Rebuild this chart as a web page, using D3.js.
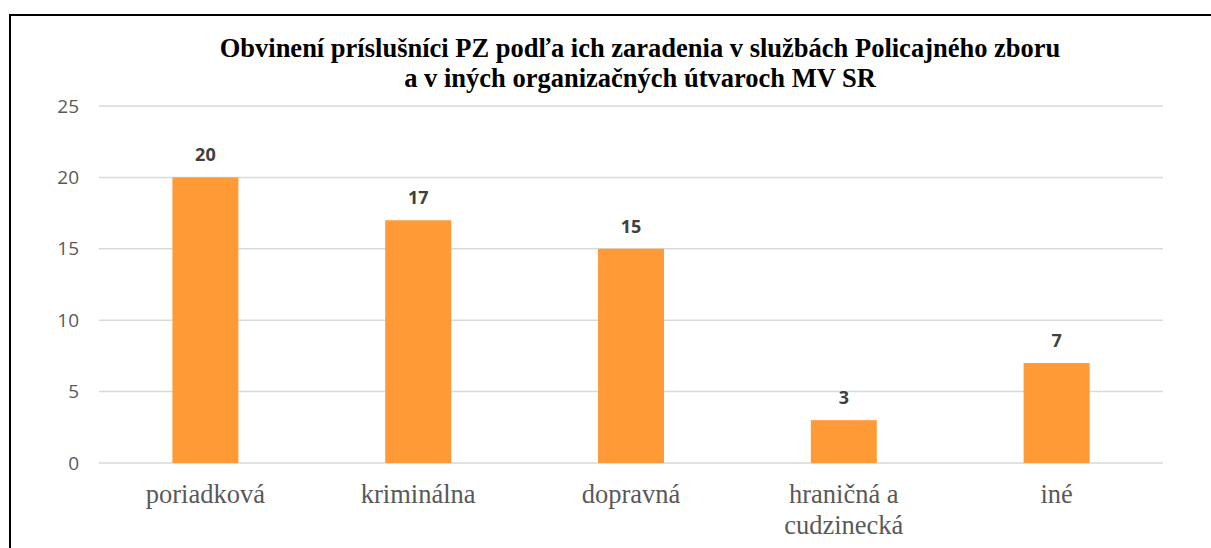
<!DOCTYPE html>
<html>
<head>
<meta charset="utf-8">
<script src="https://cdn.jsdelivr.net/npm/d3@7"></script>
<style>
  body { margin: 0; background: #fff; }
</style>
</head>
<body>
<div id="chart"></div>
<script>
var categories = ["poriadková", "kriminálna", "dopravná", "hraničná a cudzinecká", "iné"];
var values = [20, 17, 15, 3, 7];
var yTicks = [0, 5, 10, 15, 20, 25];
var titleLines = ["Obvinení príslušníci PZ podľa ich zaradenia v službách Policajného zboru", "a v iných organizačných útvaroch MV SR"];

var width = 1211, height = 548;
var margin = { top: 106, left: 99, right: 48, bottom: 85 };

var svg = d3.select("#chart").append("svg")
  .attr("width", width)
  .attr("height", height);

// frame around the chart
svg.append("path")
  .attr("d", "M10,560 L10,15 L1220,15")
  .attr("fill", "none")
  .attr("stroke", "#000")
  .attr("stroke-width", 2);

var x = d3.scaleBand()
  .domain(categories)
  .range([margin.left, width - margin.right])
  .paddingInner(0.69)
  .paddingOuter(0.345);

var y = d3.scaleLinear()
  .domain([0, 25])
  .range([height - margin.bottom, margin.top]);

// gridlines
svg.append("g")
  .selectAll("line")
  .data(yTicks)
  .enter().append("line")
  .attr("x1", margin.left)
  .attr("x2", width - margin.right)
  .attr("y1", function(d) { return y(d); })
  .attr("y2", function(d) { return y(d); })
  .attr("stroke", "#d9d9d9")
  .attr("stroke-width", 1.5);

// y axis labels
svg.append("g")
  .selectAll("text")
  .data(yTicks)
  .enter().append("text")
  .attr("x", 79)
  .attr("y", function(d) { return y(d); })
  .attr("dy", "0.35em")
  .attr("text-anchor", "end")
  .style("font-family", "'Open Sans', 'Liberation Sans', sans-serif")
  .style("font-size", "19px")
  .style("fill", "#595959")
  .text(function(d) { return d; });

// bars
svg.append("g")
  .selectAll("rect")
  .data(values)
  .enter().append("rect")
  .attr("x", function(d, i) { return x(categories[i]); })
  .attr("y", function(d) { return y(d); })
  .attr("width", x.bandwidth())
  .attr("height", function(d) { return y(0) - y(d); })
  .attr("fill", "#ff9a36");

// value labels
svg.append("g")
  .selectAll("text")
  .data(values)
  .enter().append("text")
  .attr("x", function(d, i) { return x(categories[i]) + x.bandwidth() / 2; })
  .attr("y", function(d) { return y(d) - 16; })
  .attr("text-anchor", "middle")
  .style("font-family", "'Open Sans', 'Liberation Sans', sans-serif")
  .style("font-weight", "bold")
  .style("font-size", "18px")
  .style("fill", "#404040")
  .text(function(d) { return d; });

// category labels, wrapped like the original
var xLabels = svg.append("g")
  .selectAll("text")
  .data(categories)
  .enter().append("text")
  .attr("text-anchor", "middle")
  .style("font-family", "'Liberation Serif', 'Times New Roman', serif")
  .style("font-size", "26.5px")
  .style("fill", "#595959");

xLabels.each(function(d) {
  var lines = d == "hraničná a cudzinecká" ? ["hraničná a", "cudzinecká"] : [d];
  var t = d3.select(this);
  lines.forEach(function(line, j) {
    t.append("tspan")
      .attr("x", x(d) + x.bandwidth() / 2)
      .attr("y", 503 + j * 31)
      .text(line);
  });
});

// title
svg.append("g")
  .selectAll("text")
  .data(titleLines)
  .enter().append("text")
  .attr("x", 640)
  .attr("y", function(d, i) { return 57 + i * 30; })
  .attr("text-anchor", "middle")
  .style("font-family", "'Liberation Serif', 'Times New Roman', serif")
  .style("font-weight", "bold")
  .style("font-size", "26.5px")
  .style("fill", "#000")
  .text(function(d) { return d; });
</script>
</body>
</html>
